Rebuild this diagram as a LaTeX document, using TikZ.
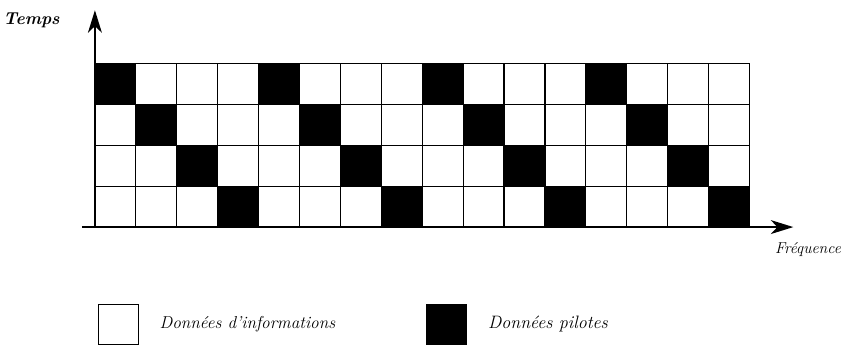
\documentclass[tikz,border=0pt]{standalone}
\usetikzlibrary{arrows.meta,positioning}
\tikzset{
  cell/.style={draw,line width=0.8pt,minimum size=1cm,inner sep=0pt,fill=white},
  pilot/.style={cell,fill=black},
  axis/.style={-{Stealth[length=5.5mm,width=3.4mm,inset=1.6mm]},line width=1.2pt},
  lbl/.style={font=\itshape,inner sep=0pt},
  key/.style={draw,line width=0.8pt,minimum size=0.98cm,inner sep=0pt},
}

\begin{document}
\begin{tikzpicture}
  \useasboundingbox (-2.32,-2.93) rectangle (18.26,5.55);

  % time-frequency grid, one pilot per column
  \foreach \c in {0,...,15} {
    \foreach \r in {0,...,3} {
      \pgfmathtruncatemacro\k{mod(\c,4)==3-\r}
      \ifnum\k=1
        \node[pilot] (c-\c-\r) at (\c+0.5,\r+0.5) {};
      \else
        \node[cell] (c-\c-\r) at (\c+0.5,\r+0.5) {};
      \fi
    }
  }

  \coordinate (o) at (0,0);
  \coordinate (ytop) at (0,5.3);
  \coordinate (xl) at (-0.32,0);
  \coordinate (xr) at (17.07,0);
  \draw[axis] (o) -- (ytop);
  \draw[axis] (xl) -- (xr);

  \node[lbl,font=\large\bfseries\itshape] (temps) at (-1.55,5.06) {Temps};
  \node[lbl,font=\fontsize{11}{13}\selectfont\itshape] (freq) at (17.43,-0.56) {Fréquence};

  % legend
  \node[key,fill=white] (kinfo) at (0.57,-2.38) {};
  \node[lbl,font=\fontsize{12}{14}\selectfont\itshape,right=5mm of kinfo] (tinfo) {Données d'informations};
  \node[key,fill=black] (kpil) at (8.6,-2.38) {};
  \node[lbl,font=\fontsize{12.5}{15}\selectfont\itshape,right=5mm of kpil] (tpil) {Données pilotes};
\end{tikzpicture}
\end{document}
